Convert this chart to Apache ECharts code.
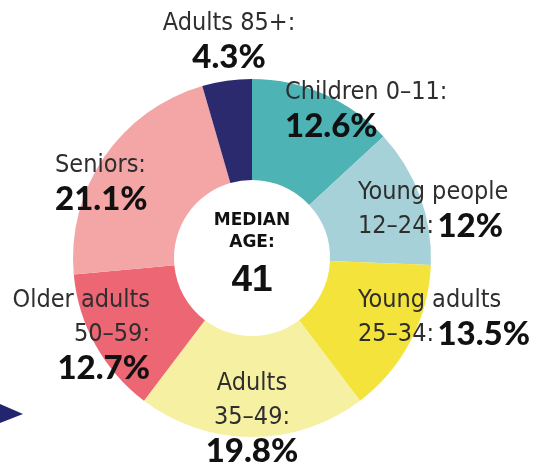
<!DOCTYPE html>
<html>
<head>
<meta charset="utf-8">
<script src="https://cdn.jsdelivr.net/npm/echarts@6/dist/echarts.min.js"></script>
<style>
  html, body { margin: 0; padding: 0; background: #ffffff; }
  #chart { width: 546px; height: 468px; }
</style>
</head>
<body>
<div id="chart"></div>
<script>
// Population share by age group (percent)
const groups = ['Children 0–11', 'Young people 12–24', 'Young adults 25–34', 'Adults 35–49',
                'Older adults 50–59', 'Seniors', 'Adults 85+'];
const shares = [12.6, 12, 13.5, 19.8, 12.7, 21.1, 4.3];
const colors = ['#4db3b5', '#a7d1d9', '#f4e33a', '#f6f0a2', '#ec6674', '#f4a6a6', '#2b2a6e'];

// Label text lines for each group; the percentage sits on the last line or below it
const labelLines = [
  ['Children 0–11:'],
  ['Young people', '12–24:'],
  ['Young adults', '25–34:'],
  ['Adults', '35–49:'],
  ['Older adults', '50–59:'],
  ['Seniors:'],
  ['Adults 85+:']
];
const pctInline = [false, true, true, false, false, false, false];

const medianAge = 41;

// Label anchor spots around the ring: [x, y, align]
const labelSpots = [
  [285, 75, 'left'],
  [358, 175, 'left'],
  [358, 283, 'left'],
  [252, 366, 'center'],
  [150, 283, 'right'],
  [55, 148, 'left'],
  [229, 6, 'center']
];

const chart = echarts.init(document.getElementById('chart'), null, { renderer: 'canvas' });

const fmtPct = v => (Number.isInteger(v) ? v : v.toFixed(1)) + '%';

chart.setOption({
  backgroundColor: '#ffffff',
  animation: false,
  series: [{
    type: 'pie',
    center: [252, 258],
    radius: [78, 179],
    startAngle: 90,
    clockwise: true,
    data: groups.map((g, i) => ({ name: g, value: shares[i], itemStyle: { color: colors[i] } })),
    label: {
      show: true,
      position: 'outside',
      overflow: 'none',
      lineHeight: 34,
      formatter: p => {
        const i = p.dataIndex;
        const lines = labelLines[i].map(t => '{t|' + t + '}');
        if (pctInline[i]) {
          lines[lines.length - 1] += ' {b|' + fmtPct(shares[i]) + '}';
        } else {
          lines.push('{b|' + fmtPct(shares[i]) + '}');
        }
        return lines.join('\n');
      },
      rich: {
        t: {
          fontFamily: '"Liberation Sans Narrow", "DejaVu Sans Condensed", sans-serif',
          fontSize: 25, color: '#2e2e2e', lineHeight: 34
        },
        b: {
          fontFamily: 'Lato, "Noto Sans", sans-serif',
          fontWeight: 900, fontSize: 33, color: '#111111', lineHeight: 34
        }
      }
    },
    labelLine: { show: false },
    labelLayout: params => {
      const s = labelSpots[params.dataIndex];
      return { x: s[0], y: s[1], align: s[2], verticalAlign: 'top', hideOverlap: false };
    },
    emphasis: { disabled: true }
  }],
  graphic: [
    {
      type: 'text',
      x: 252, y: 210,
      style: {
        text: 'MEDIAN\nAGE:',
        align: 'center',
        fontFamily: '"DejaVu Sans", sans-serif',
        fontWeight: 'bold', fontSize: 17, lineHeight: 22,
        fill: '#111111'
      },
      silent: true
    },
    {
      type: 'text',
      x: 252, y: 281,
      style: {
        text: String(medianAge),
        align: 'center',
        verticalAlign: 'middle',
        fontFamily: '"Liberation Sans", Arial, sans-serif',
        fontWeight: 'bold', fontSize: 37,
        fill: '#111111'
      },
      silent: true
    },
    {
      type: 'polygon',
      shape: { points: [[0, 404], [23, 414], [0, 423]] },
      style: { fill: '#25246e' },
      silent: true
    }
  ]
});
</script>
</body>
</html>
